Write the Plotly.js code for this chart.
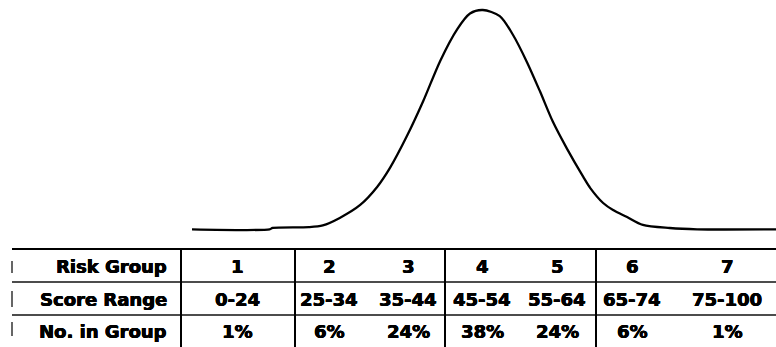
<!DOCTYPE html>
<html>
<head>
<meta charset="utf-8">
<script src="https://cdn.plot.ly/plotly-3.0.1.min.js"></script>
<style>
  html, body { margin: 0; padding: 0; background: #ffffff; }
  #chart { width: 776px; height: 347px; }
</style>
</head>
<body>
<div id="chart"></div>
<script>
// ---- Data ----
// Bell curve: position in standard deviations, relative height (peak = 1)
const curveZ = [-5.0, -3.67, -3.62, -3.0, -2.76, -2.47, -2.12, -1.83, -1.61, -1.32, -1.04, -0.75, -0.46, -0.24, -0.02,
                0.27, 0.50, 0.74, 0.96, 1.18, 1.42, 1.70, 1.82, 2.04, 2.21, 2.45, 2.72, 3.18, 3.65, 5.0];
const curveH = [0.0, 0.0, 0.006, 0.010, 0.018, 0.052, 0.111, 0.193, 0.280, 0.425, 0.585, 0.768, 0.912, 0.984, 1.0,
                0.972, 0.885, 0.760, 0.628, 0.490, 0.368, 0.239, 0.188, 0.120, 0.088, 0.056, 0.020, 0.006, 0.0, 0.0];

// Table contents
const rowLabels = ['Risk Group', 'Score Range', 'No. in Group'];
const riskGroups = ['1', '2', '3', '4', '5', '6', '7'];
const scoreRanges = ['0-24', '25-34', '35-44', '45-54', '55-64', '65-74', '75-100'];
const groupShares = ['1%', '6%', '24%', '38%', '24%', '6%', '1%'];

// ---- Layout (pixel geometry) ----
const W = 776, H = 347;
const px = x => x / W;
const py = y => 1 - y / H;
const colCenters = [237, 329, 408, 482, 557, 632, 727];
const rowCenters = [266, 299, 331];
const labelRight = 169;
const tableTop = 249, rowSeps = [282, 315], tableLeft = 12;
const vLines = [181, 295, 445, 596];
const leftMarks = [[261, 273], [291, 307], [322, 336]];

const font = { family: 'DejaVu Sans, Arial, sans-serif', size: 18, color: '#000000', weight: 'bold',
               shadow: '0.5px 0 0 #000, -0.3px 0 0 #000, 0 0.4px 0 #000' };

const annotations = [];
rowLabels.forEach((lab, r) => {
  annotations.push({ xref: 'paper', yref: 'paper', x: px(labelRight), y: py(rowCenters[r]),
    xanchor: 'right', yanchor: 'middle', text: lab, showarrow: false, font: font });
});
[riskGroups, scoreRanges, groupShares].forEach((row, r) => {
  row.forEach((t, c) => {
    annotations.push({ xref: 'paper', yref: 'paper', x: px(colCenters[c]), y: py(rowCenters[r]),
      xanchor: 'center', yanchor: 'middle', text: t, showarrow: false, font: font });
  });
});

const shapes = [];
shapes.push({ type: 'line', xref: 'paper', yref: 'paper', x0: px(tableLeft), x1: 1, y0: py(tableTop), y1: py(tableTop),
  line: { color: '#000', width: 2.2 } });
rowSeps.forEach(y => shapes.push({ type: 'line', xref: 'paper', yref: 'paper', x0: px(tableLeft), x1: 1, y0: py(y), y1: py(y),
  line: { color: '#111', width: 1.4 } }));
vLines.forEach(x => shapes.push({ type: 'line', xref: 'paper', yref: 'paper', x0: px(x), x1: px(x), y0: py(tableTop), y1: 0,
  line: { color: '#000', width: 2 } }));
leftMarks.forEach(m => shapes.push({ type: 'line', xref: 'paper', yref: 'paper', x0: px(tableLeft), x1: px(tableLeft),
  y0: py(m[0]), y1: py(m[1]), line: { color: '#333', width: 1.5 } }));

// Curve axis mapping: z -5..5 spans px 192..776; height 0 at y=229.3, 1 at y=10
const yPad = 0.03, y0px = 229.3, y1px = 10, unit = y0px - y1px;
const yDomBottom = 1 - (y0px + yPad * unit) / H;
const yDomTop = 1 - (y1px - yPad * unit) / H;

const data = [{
  type: 'scatter', mode: 'lines', x: curveZ, y: curveH,
  line: { color: '#000000', width: 2.3, shape: 'spline', smoothing: 0.8 },
  hoverinfo: 'skip', showlegend: false
}];

const layout = {
  width: W, height: H,
  margin: { l: 0, r: 0, t: 0, b: 0, pad: 0 },
  paper_bgcolor: '#ffffff', plot_bgcolor: '#ffffff',
  showlegend: false,
  xaxis: { domain: [192 / W, 1], range: [-5, 5], visible: false, fixedrange: true },
  yaxis: { domain: [yDomBottom, yDomTop], range: [-yPad, 1 + yPad], visible: false, fixedrange: true },
  shapes: shapes,
  annotations: annotations
};

Plotly.newPlot('chart', data, layout, { staticPlot: true, displayModeBar: false });
</script>
</body>
</html>
